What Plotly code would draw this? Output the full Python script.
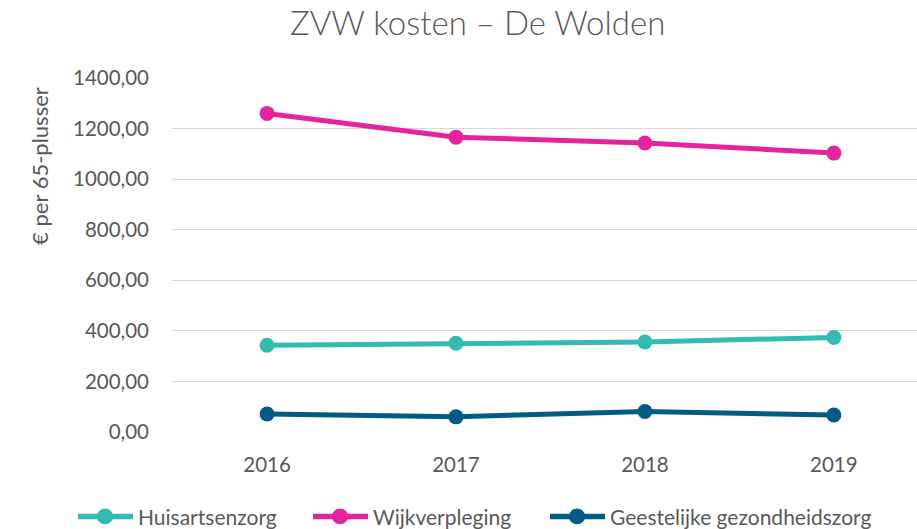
import plotly.graph_objects as go

years = ["2016", "2017", "2018", "2019"]
huisartsenzorg = [343, 351, 356, 374]
wijkverpleging = [1260, 1166, 1143, 1103]
ggz = [71, 60, 81, 67]

series = [
    ("Huisartsenzorg", huisartsenzorg, "#31BCB1"),
    ("Wijkverpleging", wijkverpleging, "#E6239E"),
    ("Geestelijke gezondheidszorg", ggz, "#005B85"),
]

FONT = "Lato"
GREY = "#595959"
W, H = 917, 529
ML, MR, MT, MB = 172, 0, 78, 96.5
PW, PH = W - ML - MR, H - MT - MB


def px(x):
    return (x - ML) / PW


def py(y):
    return (H - MB - y) / PH


fig = go.Figure()
for name, vals, col in series:
    fig.add_trace(go.Scatter(
        x=list(range(len(years))), y=vals, name=name, mode="lines+markers",
        line=dict(color=col, width=5),
        marker=dict(color=col, size=15),
        showlegend=False,
    ))

# legend drawn below the plot: line + dot symbol followed by the label
legend_x = [78, 313, 550]
legend_y = 517
shapes = []
annotations = [
    dict(text="ZVW kosten – De Wolden", x=px(477), y=py(22), xref="paper", yref="paper",
         xanchor="center", yanchor="middle", showarrow=False,
         font=dict(size=33, color=GREY, weight=300)),
    dict(text="€ per 65-plusser", textangle=-90, showarrow=False,
         xref="paper", yref="paper", x=px(40), y=py(166),
         xanchor="center", yanchor="middle", font=dict(size=22, color=GREY)),
]
for (name, _, col), x0 in zip(series, legend_x):
    shapes.append(dict(type="line", xref="paper", yref="paper",
                       x0=px(x0), x1=px(x0 + 55), y0=py(legend_y), y1=py(legend_y),
                       line=dict(color=col, width=5.5)))
    shapes.append(dict(type="circle", xref="paper", yref="paper",
                       x0=px(x0 + 19), x1=px(x0 + 35),
                       y0=py(legend_y + 8), y1=py(legend_y - 8),
                       fillcolor=col, line=dict(width=0)))
    annotations.append(dict(text=name, xref="paper", yref="paper",
                            x=px(x0 + 58), y=py(legend_y), xanchor="left", yanchor="middle",
                            showarrow=False, font=dict(size=21, color=GREY)))

fig.update_layout(
    width=W, height=H,
    paper_bgcolor="white", plot_bgcolor="white",
    margin=dict(l=ML, r=MR, t=MT, b=MB),
    separators=",.",
    font=dict(family=FONT, color=GREY, size=20.5),
    showlegend=False,
    xaxis=dict(
        tickmode="array", tickvals=list(range(len(years))), ticktext=years,
        range=[-0.503, 3.44], showgrid=False, zeroline=False, showline=False,
        ticks="", ticklabelstandoff=18,
    ),
    yaxis=dict(
        range=[0, 1400], dtick=200, tickformat=".2f",
        showgrid=True, gridcolor="#D9D9D9", gridwidth=1.3,
        zeroline=False, showline=False, ticks="", ticklabelstandoff=22,
    ),
    shapes=shapes,
    annotations=annotations,
)

fig.write_html("out.html")
